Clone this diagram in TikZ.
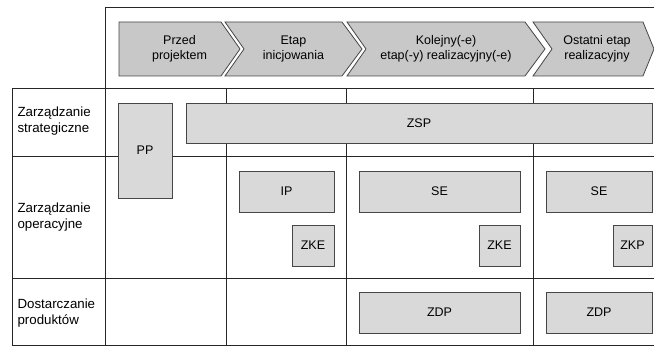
\documentclass[tikz,border=0pt]{standalone}
\usepackage{fontspec}
\setmainfont{Liberation Sans}
\definecolor{phasegray}{RGB}{200,200,200}
\definecolor{taskgray}{RGB}{217,217,217}
\definecolor{edgegray}{RGB}{70,70,70}

\begin{document}
\begin{tikzpicture}[x=1pt, y=-1pt,
    grid/.style={draw=black!85, line width=1pt},
    phase/.style={draw=edgegray, fill=phasegray, line width=0.8pt, line join=miter},
    phasetext/.style={align=center, font=\fontsize{12.5}{15}\selectfont},
    task/.style={draw=edgegray, fill=taskgray, line width=0.8pt, inner sep=0pt, font=\fontsize{12.5}{15}\selectfont},
    lane/.style={anchor=west, align=left, font=\fontsize{13.3}{15.5}\selectfont}]

    \useasboundingbox (0,0) rectangle (654,347);
    \clip (0,0) rectangle (654,347);

    % header frame and table
    \draw[grid] (105,89) -- (105,8) -- (670,8);
    \draw[grid] (670,89) -- (12,89) -- (12,346) -- (670,346);
    \foreach \y in {157,279} \draw[grid] (12,\y) -- (670,\y);
    \foreach \x in {105,226,346,533} \draw[grid] (\x,89) -- (\x,346);

    % phases
    \draw[phase] (119,22) -- (221,22) -- (240,49) -- (221,76) -- (119,76) -- cycle;
    \draw[phase] (225,22) -- (342,22) -- (362,49) -- (342,76) -- (225,76) -- (244,49) -- cycle;
    \draw[phase] (347,22) -- (525,22) -- (545,49) -- (525,76) -- (347,76) -- (366,49) -- cycle;
    \draw[phase] (533,22) -- (643,22) -- (654,49) -- (643,76) -- (533,76) -- (552,49) -- cycle;

    \node[phasetext] (przed) at (179.5,49) {Przed\\projektem};
    \node[phasetext] (inic) at (293.5,49) {Etap\\inicjowania};
    \node[phasetext] (kolejny) at (446,49) {Kolejny(-e)\\etap(-y) realizacyjny(-e)};
    \node[phasetext] (ostatni) at (597,49) {Ostatni etap\\realizacyjny};

    % lanes
    \node[lane] (strat) at (14,121) {Zarządzanie\\strategiczne};
    \node[lane] (oper) at (14,217) {Zarządzanie\\operacyjne};
    \node[lane] (dost) at (14,313) {Dostarczanie\\produktów};

    % tasks
    \node[task, minimum width=54pt, minimum height=95pt] (pp) at (145,150.5) {PP};
    \node[task, minimum width=466pt, minimum height=40pt] (zsp) at (419,123) {ZSP};
    \node[task, minimum width=95pt, minimum height=41pt] (ip) at (286.5,191.5) {IP};
    \node[task, minimum width=42pt, minimum height=41pt] (zke1) at (313,245.5) {ZKE};
    \node[task, minimum width=161pt, minimum height=41pt] (se1) at (439.5,191.5) {SE};
    \node[task, minimum width=41pt, minimum height=41pt] (zke2) at (499.5,245.5) {ZKE};
    \node[task, minimum width=106pt, minimum height=41pt] (se2) at (599,191.5) {SE};
    \node[task, minimum width=39pt, minimum height=41pt] (zkp) at (632.5,245.5) {ZKP};
    \node[task, minimum width=161pt, minimum height=41pt] (zdp1) at (439.5,312.5) {ZDP};
    \node[task, minimum width=106pt, minimum height=41pt] (zdp2) at (599,312.5) {ZDP};
\end{tikzpicture}
\end{document}
